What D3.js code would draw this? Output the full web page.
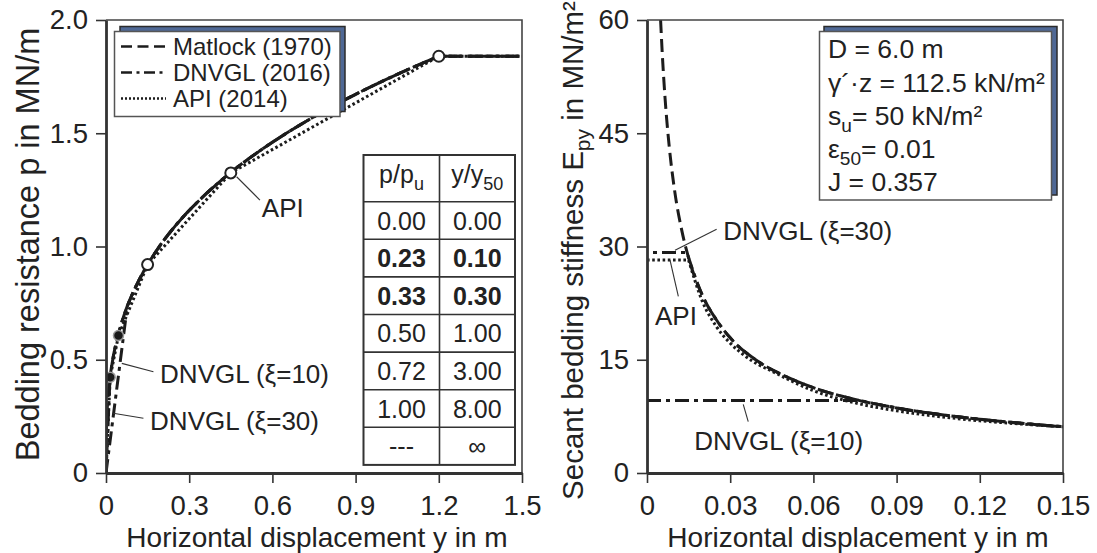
<!DOCTYPE html>
<html><head><meta charset="utf-8">
<script src="https://cdn.jsdelivr.net/npm/d3@7"></script>
<style>
html,body{margin:0;padding:0;background:#fff;}
svg{display:block;font-family:"Liberation Sans",Arial,Helvetica,sans-serif;}
</style></head><body>
<svg id="chart" width="1097" height="553"></svg>
<script>
// ---------- p-y curves (soft clay, D = 6.0 m, y50 = 0.15 m, pu = 1.84 MN/m) ----------
const matlockY = [0, 0.0001, 0.0003, 0.001, 0.003, 0.006, 0.01, 0.015, 0.025, 0.04, 0.06, 0.09, 0.13, 0.18, 0.25, 0.35, 0.45, 0.6, 0.75, 0.9, 1.05, 1.2, 1.5];
const matlockP = [0, 0.080, 0.116, 0.173, 0.250, 0.315, 0.373, 0.427, 0.506, 0.592, 0.678, 0.776, 0.877, 0.978, 1.091, 1.220, 1.327, 1.460, 1.573, 1.672, 1.760, 1.84, 1.84];

const dnv10Y = [0, 0.077, 0.09, 0.13, 0.18, 0.25, 0.35, 0.45, 0.6, 0.75, 0.9, 1.05, 1.2, 1.5];
const dnv10P = [0, 0.738, 0.776, 0.877, 0.978, 1.091, 1.220, 1.327, 1.460, 1.573, 1.672, 1.760, 1.84, 1.84];

const dnv30Y = [0, 0.0144, 0.025, 0.04, 0.06, 0.09, 0.13, 0.18, 0.25, 0.35, 0.45, 0.6, 0.75, 0.9, 1.05, 1.2, 1.5];
const dnv30P = [0, 0.421, 0.506, 0.592, 0.678, 0.776, 0.877, 0.978, 1.091, 1.220, 1.327, 1.460, 1.573, 1.672, 1.760, 1.84, 1.84];

const apiY = [0, 0.015, 0.045, 0.15, 0.45, 1.2, 1.5];
const apiP = [0, 0.423, 0.607, 0.92, 1.325, 1.84, 1.84];

// API table points marked on the curve
const apiOpenY = [0.15, 0.45, 1.2];
const apiOpenP = [0.92, 1.325, 1.84];
const apiFilledY = [0.015, 0.045];
const apiFilledP = [0.423, 0.607];

// ---------- secant bedding stiffness E_py = p / y (MN/m²) ----------
const matlockEy = [0.0049, 0.0055, 0.0065, 0.008, 0.01, 0.0125, 0.015, 0.02, 0.025, 0.03, 0.04, 0.05, 0.06, 0.075, 0.09, 0.105, 0.12, 0.135, 0.15];
const matlockE  = [60.0, 55.6, 49.7, 43.3, 37.3, 32.2, 28.5, 23.5, 20.3, 17.9, 14.8, 12.8, 11.3, 9.74, 8.62, 7.78, 7.12, 6.58, 6.13];

const dnv10Ey = [0, 0.0767, 0.09, 0.105, 0.12, 0.135, 0.15];
const dnv10E  = [9.6, 9.6, 8.62, 7.78, 7.12, 6.58, 6.13];

const dnv30Ey = [0, 0.0144, 0.02, 0.025, 0.03, 0.04, 0.05, 0.06, 0.075, 0.09, 0.105, 0.12, 0.135, 0.15];
const dnv30E  = [29.2, 29.2, 23.5, 20.3, 17.9, 14.8, 12.8, 11.3, 9.74, 8.62, 7.78, 7.12, 6.58, 6.13];

const apiEy = [0, 0.015, 0.02, 0.025, 0.03, 0.035, 0.04, 0.045, 0.06, 0.075, 0.09, 0.105, 0.12, 0.135, 0.15];
const apiE  = [28.2, 28.2, 22.7, 19.4, 17.2, 15.6, 14.4, 13.5, 10.9, 9.29, 8.24, 7.49, 6.92, 6.48, 6.13];

// ---------- ticks ----------
const leftXTicks = [0, 0.3, 0.6, 0.9, 1.2, 1.5];
const leftXLabels = ["0", "0.3", "0.6", "0.9", "1.2", "1.5"];
const leftYTicks = [0, 0.5, 1.0, 1.5, 2.0];
const leftYLabels = ["0", "0.5", "1.0", "1.5", "2.0"];
const rightXTicks = [0, 0.03, 0.06, 0.09, 0.12, 0.15];
const rightXLabels = ["0", "0.03", "0.06", "0.09", "0.12", "0.15"];
const rightYTicks = [0, 15, 30, 45, 60];
const rightYLabels = ["0", "15", "30", "45", "60"];

// ---------- API table ----------
const tableHeadA = ["p/p", "u"];
const tableHeadB = ["y/y", "50"];
const tablePu  = ["0.00", "0.23", "0.33", "0.50", "0.72", "1.00", "---"];
const tableY50 = ["0.00", "0.10", "0.30", "1.00", "3.00", "8.00", "\u221E"];
const tableBoldRows = [1, 2];

// ---------- legend and parameter box ----------
const legendNames = ["Matlock (1970)", "DNVGL (2016)", "API (2014)"];
const paramLines = [
  [["D = 6.0 m", false]],
  [["\u03B3\u00B4\u00B7z = 112.5 kN/m\u00B2", false]],
  [["s", false], ["u", true], ["= 50 kN/m\u00B2", false]],
  [["\u03B5", false], ["50", true], ["= 0.01", false]],
  [["J = 0.357", false]]
];

// ================= drawing =================
const INK = "#1c1c1c";
const AXIS = "#333";
const svg = d3.select("#chart");

const xL = d3.scaleLinear().domain([0, 1.5]).range([106, 522]);
const yL = d3.scaleLinear().domain([0, 2]).range([473, 20]);
const xR = d3.scaleLinear().domain([0, 0.15]).range([647, 1063]);
const yR = d3.scaleLinear().domain([0, 60]).range([473, 20]);

const styles = {
  matlock: {dash: "13,6", width: 3},
  dnv: {dash: "14,5,4,5", width: 3},
  api: {dash: "2.6,2.6", width: 3}
};

// smooth path with sharp corners at the given indices
function curvePath(xs, ys, kinks, sx, sy) {
  const pts = xs.map((v, i) => [sx(v), sy(ys[i])]);
  const cuts = [0, ...kinks, pts.length - 1];
  const gen = d3.line().curve(d3.curveMonotoneX);
  let d = "";
  for (let k = 0; k < cuts.length - 1; k++) {
    let s = gen(pts.slice(cuts[k], cuts[k + 1] + 1));
    if (k > 0) s = s.replace(/^M/, "L");
    d += s;
  }
  return d;
}

function clip(id, sx, sy) {
  svg.append("clipPath").attr("id", id).append("rect")
    .attr("x", sx.range()[0]).attr("y", sy.range()[1])
    .attr("width", sx.range()[1] - sx.range()[0])
    .attr("height", sy.range()[0] - sy.range()[1]);
}
clip("clipL", xL, yL);
clip("clipR", xR, yR);

function drawCurve(g, d, st, offset) {
  g.append("path").attr("d", d).attr("fill", "none")
    .attr("stroke", INK).attr("stroke-width", st.width)
    .attr("stroke-dasharray", st.dash)
    .attr("stroke-dashoffset", offset || 0);
}

function frame(sx, sy, xt, xl, yt, yl) {
  const g = svg.append("g");
  // top and right border
  g.append("path")
    .attr("d", `M${sx.range()[0]},${sy.range()[1]}H${sx.range()[1]}V${sy.range()[0]}`)
    .attr("fill", "none").attr("stroke", "#444").attr("stroke-width", 1.6);
  const ax = g.append("g").attr("transform", `translate(0,${sy.range()[0]})`)
    .call(d3.axisBottom(sx).tickValues(xt).tickFormat((d, i) => xl[i]).tickSize(10).tickSizeOuter(0).tickPadding(12.5));
  const ay = g.append("g").attr("transform", `translate(${sx.range()[0]},0)`)
    .call(d3.axisLeft(sy).tickValues(yt).tickFormat((d, i) => yl[i]).tickSize(10).tickSizeOuter(0).tickPadding(8));
  [ax, ay].forEach(a => {
    a.attr("font-family", null).attr("font-size", null);
    a.select(".domain").attr("stroke", AXIS).attr("stroke-width", 2.8);
    a.selectAll(".tick line").attr("stroke", AXIS).attr("stroke-width", 1.6);
    a.selectAll(".tick text").attr("fill", "#222").style("font-size", "27.5px");
  });
}

function txt(g, x, y, parts, size, anchor) {
  const t = g.append("text").attr("x", x).attr("y", y).attr("fill", "#222")
    .style("font-size", size + "px").attr("text-anchor", anchor || "start");
  let shifted = false;
  parts.forEach(([s, sub]) => {
    const ts = t.append("tspan").text(s);
    if (sub && !shifted) { ts.attr("dy", size * 0.25).style("font-size", (size * 0.72) + "px"); shifted = true; }
    else if (!sub && shifted) { ts.attr("dy", -size * 0.25); shifted = false; }
  });
  return t;
}

function leader(g, x1, y1, x2, y2) {
  g.append("line").attr("x1", x1).attr("y1", y1).attr("x2", x2).attr("y2", y2)
    .attr("stroke", "#333").attr("stroke-width", 1.1);
}

// ---------- left panel: p-y curves ----------
const gL = svg.append("g").attr("clip-path", "url(#clipL)");
drawCurve(gL, curvePath(matlockY, matlockP, [21], xL, yL), styles.matlock);
drawCurve(gL, curvePath(dnv10Y, dnv10P, [1, 12], xL, yL), styles.dnv);
drawCurve(gL, curvePath(dnv30Y, dnv30P, [1, 15], xL, yL), styles.dnv, 7);
drawCurve(gL, curvePath(apiY, apiP, [1, 2, 3, 4, 5], xL, yL), styles.api);

gL.selectAll("circle.f").data(apiFilledY).join("circle")
  .attr("cx", d => xL(d)).attr("cy", (d, i) => yL(apiFilledP[i])).attr("r", 5)
  .attr("fill", "#1a1a1a").attr("stroke", "#9a9a9a").attr("stroke-width", 1.5);
svg.append("g").selectAll("circle").data(apiOpenY).join("circle")
  .attr("cx", d => xL(d)).attr("cy", (d, i) => yL(apiOpenP[i])).attr("r", 5.5)
  .attr("fill", "#fff").attr("stroke", "#222").attr("stroke-width", 2);

frame(xL, yL, leftXTicks, leftXLabels, leftYTicks, leftYLabels);

// annotations (data coordinates)
const annL = svg.append("g");
leader(annL, xL(0.471), yL(1.308), xL(0.555), yL(1.205));
txt(annL, xL(0.562), yL(1.132), [["API", false]], 26);
leader(annL, xL(0.171), yL(0.447), xL(0.057), yL(0.484));
txt(annL, xL(0.195), yL(0.397), [["DNVGL (\u03BE=10)", false]], 26);
leader(annL, xL(0.135), yL(0.242), xL(0.026), yL(0.264));
txt(annL, xL(0.159), yL(0.19), [["DNVGL (\u03BE=30)", false]], 26);

// legend with shadow box
const lg = svg.append("g");
lg.append("rect").attr("x", 120).attr("y", 26.5).attr("width", 225).attr("height", 85)
  .attr("fill", "#4f6895").attr("stroke", "#2b2b2b").attr("stroke-width", 1.5);
lg.append("rect").attr("x", 114.5).attr("y", 31.5).attr("width", 225.5).attr("height", 85)
  .attr("fill", "#fff").attr("stroke", "#555").attr("stroke-width", 1.5);
const legDash = ["11,5.5", "11,4.5,3,4.5", "2,2"];
legendNames.forEach((name, i) => {
  const by = 55 + i * 26;
  lg.append("line").attr("x1", 121).attr("x2", 166).attr("y1", by - 8.5).attr("y2", by - 8.5)
    .attr("stroke", INK).attr("stroke-width", i === 2 ? 2.4 : 2.6).attr("stroke-dasharray", legDash[i]);
  txt(lg, 173, by, [[name, false]], 24);
});

// API table
const tb = svg.append("g");
const colX = [363.5, 439.5, 515];
const rowY = [155, 201.7];
for (let i = 1; i <= tablePu.length; i++) rowY.push(201.7 + i * 37.6);
tb.append("rect").attr("x", colX[0]).attr("y", rowY[0]).attr("width", colX[2] - colX[0])
  .attr("height", rowY[rowY.length - 1] - rowY[0]).attr("fill", "#fff")
  .attr("stroke", "#333").attr("stroke-width", 2);
rowY.slice(1, -1).forEach(y => tb.append("line").attr("x1", colX[0]).attr("x2", colX[2])
  .attr("y1", y).attr("y2", y).attr("stroke", "#333").attr("stroke-width", 1.6));
tb.append("line").attr("x1", colX[1]).attr("x2", colX[1]).attr("y1", rowY[0])
  .attr("y2", rowY[rowY.length - 1]).attr("stroke", "#333").attr("stroke-width", 1.6);
const c1 = (colX[0] + colX[1]) / 2, c2 = (colX[1] + colX[2]) / 2;
txt(tb, c1, (rowY[0] + rowY[1]) / 2 + 5, [[tableHeadA[0], false], [tableHeadA[1], true]], 25, "middle");
txt(tb, c2, (rowY[0] + rowY[1]) / 2 + 5, [[tableHeadB[0], false], [tableHeadB[1], true]], 25, "middle");
tablePu.forEach((v, i) => {
  const cy = (rowY[i + 1] + rowY[i + 2]) / 2 + 9;
  const bold = tableBoldRows.includes(i);
  txt(tb, c1, cy, [[v, false]], 25, "middle").attr("font-weight", bold ? "bold" : null);
  txt(tb, c2, cy, [[tableY50[i], false]], 25, "middle").attr("font-weight", bold ? "bold" : null);
});

// left axis titles
svg.append("text").attr("transform", `translate(39,${(yL.range()[0] + yL.range()[1]) / 2 - 2}) rotate(-90)`)
  .attr("text-anchor", "middle").attr("fill", "#222").style("font-size", "32.5px")
  .text("Bedding resistance p in MN/m");
svg.append("text").attr("x", (xL.range()[0] + xL.range()[1]) / 2 + 3).attr("y", 547)
  .attr("text-anchor", "middle").attr("fill", "#222").style("font-size", "28px")
  .text("Horizontal displacement y in m");

// ---------- right panel: secant stiffness ----------
const gR = svg.append("g").attr("clip-path", "url(#clipR)");
drawCurve(gR, curvePath(matlockEy, matlockE, [], xR, yR), styles.matlock);
drawCurve(gR, curvePath(dnv10Ey, dnv10E, [1], xR, yR), styles.dnv);
drawCurve(gR, curvePath(dnv30Ey, dnv30E, [1], xR, yR), styles.dnv, 13);
drawCurve(gR, curvePath(apiEy, apiE, [1, 7], xR, yR), styles.api);

frame(xR, yR, rightXTicks, rightXLabels, rightYTicks, rightYLabels);

const annR = svg.append("g");
leader(annR, xR(0.0251), yR(32.3), xR(0.0101), yR(29.5));
txt(annR, xR(0.0275), yR(30.9), [["DNVGL (\u03BE=30)", false]], 26);
leader(annR, xR(0.0113), yR(23.4), xR(0.0083), yR(28.2));
txt(annR, xR(0.0029), yR(19.6), [["API", false]], 26);
leader(annR, xR(0.0365), yR(6.8), xR(0.0347), yR(9.1));
txt(annR, xR(0.017), yR(3.05), [["DNVGL (\u03BE=10)", false]], 26);

// parameter box with shadow
const pb = svg.append("g");
pb.append("rect").attr("x", 824).attr("y", 26.5).attr("width", 233).attr("height", 168.5)
  .attr("fill", "#4f6895").attr("stroke", "#2b2b2b").attr("stroke-width", 1.5);
pb.append("rect").attr("x", 819.5).attr("y", 31.5).attr("width", 232).attr("height", 168.5)
  .attr("fill", "#fff").attr("stroke", "#555").attr("stroke-width", 1.5);
const paramBase = [58, 92, 125, 158, 191];
paramLines.forEach((parts, i) => txt(pb, 828, paramBase[i], parts, 26.5));

// right axis titles
const ry = svg.append("text")
  .attr("transform", `translate(583,${(yR.range()[0] + yR.range()[1]) / 2 + 4}) rotate(-90)`)
  .attr("text-anchor", "middle").attr("fill", "#222").style("font-size", "29.5px");
ry.append("tspan").text("Secant bedding stiffness E");
ry.append("tspan").text("py").attr("dy", 7).style("font-size", "21px");
ry.append("tspan").text(" in MN/m\u00B2").attr("dy", -7);
svg.append("text").attr("x", (xR.range()[0] + xR.range()[1]) / 2 + 3).attr("y", 547)
  .attr("text-anchor", "middle").attr("fill", "#222").style("font-size", "28px")
  .text("Horizontal displacement y in m");
</script>
</body></html>
